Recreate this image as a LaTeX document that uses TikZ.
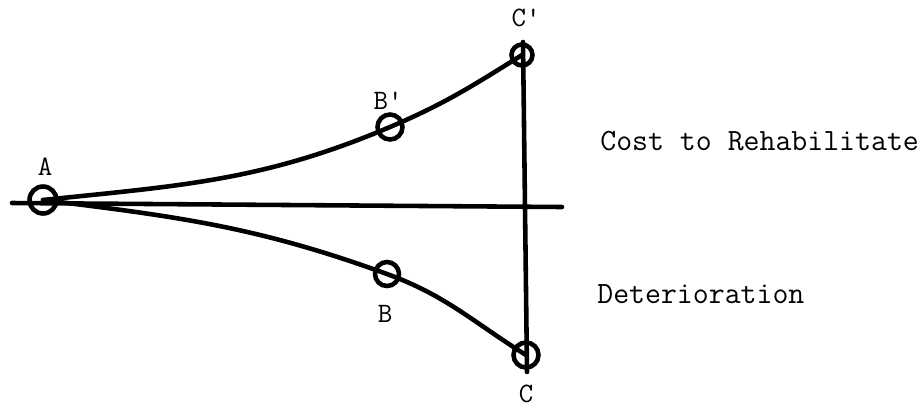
\documentclass[tikz,border=0pt]{standalone}
\usepackage{fontspec}
\usetikzlibrary{positioning}

\begin{document}
\begin{tikzpicture}[
			x=0.02cm, y=-0.02cm,
			pt/.style={draw, circle, line width=2.6pt, minimum size=0.54cm, inner sep=0pt},
			lbl/.style={font=\ttfamily\fontsize{16}{18}\selectfont, inner sep=0pt},
			side/.style={font=\ttfamily\fontsize{17.6}{20}\selectfont, anchor=west, inner sep=0pt},
			curve/.style={line width=2.6pt, line cap=round}
			]
			\useasboundingbox (0,0) rectangle (923,407);
			
			\node[pt] (A) at (43,200) {};
			\node[pt, minimum size=0.5cm] (Bp) at (390,127) {};
			\node[pt, minimum size=0.42cm] (Cp) at (522,55) {};
			\node[pt, minimum size=0.48cm] (B) at (387,274) {};
			\node[pt, minimum size=0.5cm] (C) at (526,355) {};
			
			\node[lbl] (la) at (45,167) {A};
			\node[lbl] (lbp) at (388,101) {B'};
			\node[lbl] (lcp) at (526,18) {C'};
			\node[lbl] (lb) at (385,314) {B};
			\node[lbl] (lc) at (526,394) {C};
			
			\node[side] (cost) at (600,141) {Cost to Rehabilitate};
			\node[side] (det) at (597,294) {Deterioration};
			
			\coordinate (axl) at (12,203);
			\coordinate (axr) at (562,207);
			\coordinate (vtop) at (523,42);
			\coordinate (vbot) at (527,372);
			
			% base line and the vertical at C
			\draw[curve] (axl) -- (axr);
			\draw[curve] (vtop) -- (vbot);
			% the two curves
			\draw[curve] (A.center) to[out=6, in=203] (Bp.center) to[out=23, in=212] (Cp.center);
			\draw[curve] (A.center) to[out=-7, in=160] (B.center) to[out=-20, in=148] (C.center);
		\end{tikzpicture}
\end{document}
